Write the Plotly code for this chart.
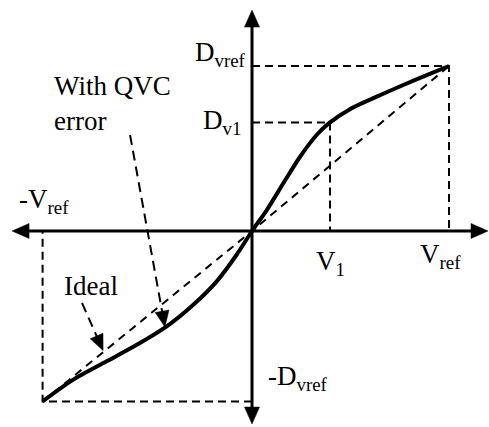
import math
import plotly.graph_objects as go

# Reference levels (normalised so that V_ref = D_vref = 1)
V_REF = 1.0
D_VREF = 1.0
NEG_V_REF = -1.063
NEG_D_VREF = -1.033
V1 = 0.396
D_V1 = 0.658

# Transfer characteristic with QVC error (input voltage -> digital output)
qvc_x = [-1.063, -0.907, -0.738, -0.569, -0.433, -0.298, -0.179, -0.078, 0.0,
         0.075, 0.159, 0.244, 0.328, 0.396, 0.497, 0.633, 0.768, 0.887, 1.0]
qvc_y = [-1.033, -0.901, -0.790, -0.679, -0.578, -0.447, -0.305, -0.144, 0.0,
         0.127, 0.289, 0.450, 0.582, 0.658, 0.738, 0.814, 0.885, 0.945, 1.0]

# Ideal (linear) characteristic
ideal_x = [NEG_V_REF, 0.0, V_REF]
ideal_y = [NEG_D_VREF, 0.0, D_VREF]

# Callout arrows: (tail, tip) in data units
qvc_arrow = [(-0.619, 0.582), (-0.442, -0.582)]
ideal_arrow = [(-0.863, -0.436), (-0.756, -0.725)]

# Axis extents
X_RANGE = [-1.2792, 1.2030]
Y_RANGE = [-1.1879, 1.4]
X_TIP = [-1.218, 1.198]
Y_TIP = [-1.170, 1.339]

W, H = 489, 427
PX_X = W / (X_RANGE[1] - X_RANGE[0])   # pixels per data unit
PX_Y = H / (Y_RANGE[1] - Y_RANGE[0])

FONT = dict(family="Liberation Serif, Times New Roman, serif", size=27, color="black")
GUIDE = dict(color="black", width=2, dash="8px,5px")

fig = go.Figure()


def line(x, y, **style):
    fig.add_trace(go.Scatter(x=x, y=y, mode="lines", line=style,
                             hoverinfo="skip", showlegend=False))


def head(tail, tip, length, width):
    """Filled triangular arrowhead at `tip`, pointing away from `tail`."""
    (x0, y0), (x1, y1) = tail, tip
    dxp, dyp = (x1 - x0) * PX_X, (y1 - y0) * PX_Y
    n = math.hypot(dxp, dyp)
    ux, uy = dxp / n, dyp / n
    bx, by = -ux * length, -uy * length            # back along the shaft (px)
    px_, py_ = -uy * width / 2, ux * width / 2       # perpendicular (px)
    xs = [x1, x1 + (bx + px_) / PX_X, x1 + (bx - px_) / PX_X, x1]
    ys = [y1, y1 + (by + py_) / PX_Y, y1 + (by - py_) / PX_Y, y1]
    fig.add_trace(go.Scatter(x=xs, y=ys, mode="lines", fill="toself",
                             fillcolor="black", line=dict(color="black", width=0.5),
                             hoverinfo="skip", showlegend=False))
    # point where the shaft should stop (data units)
    return (x1 + bx * 0.6 / PX_X, y1 + by * 0.6 / PX_Y)


# Dashed guide lines to the reference points
for gx, gy in [
    ([0, V_REF, V_REF], [D_VREF, D_VREF, 0]),
    ([0, V1, V1], [D_V1, D_V1, 0]),
    ([0, NEG_V_REF, NEG_V_REF], [NEG_D_VREF, NEG_D_VREF, 0]),
]:
    line(gx, gy, **GUIDE)

# Ideal line
line(ideal_x, ideal_y, color="black", width=2, dash="8px,6px")

# Characteristic with QVC error
line(qvc_x, qvc_y, color="black", width=4, shape="spline", smoothing=0.8)

# Axes with arrowheads at both ends
ends = []
for tail, tip in [((0, 0), (X_TIP[1], 0)), ((0, 0), (X_TIP[0], 0)),
                  ((0, 0), (0, Y_TIP[1])), ((0, 0), (0, Y_TIP[0]))]:
    ends.append(head(tail, tip, 17, 15))
line([ends[1][0], ends[0][0]], [0, 0], color="black", width=3)
line([0, 0], [ends[3][1], ends[2][1]], color="black", width=3)

# Dashed callout arrows
for tail, tip in [qvc_arrow, ideal_arrow]:
    stop = head(tail, tip, 16, 14)
    line([tail[0], stop[0]], [tail[1], stop[1]], color="black", width=2, dash="10px,6px")

# Labels
labels = [
    dict(x=0, y=D_VREF, text="D<sub>vref</sub>", xanchor="right", xshift=-4, yshift=12),
    dict(x=0, y=D_V1, text="D<sub>v1</sub>", xanchor="right", xshift=-9, yshift=0),
    dict(x=NEG_V_REF, y=0, text="-V<sub>ref</sub>", xanchor="center", xshift=1, yshift=30),
    dict(x=V1, y=0, text="V<sub>1</sub>", xanchor="center", xshift=0, yshift=-32),
    dict(x=V_REF, y=0, text="V<sub>ref</sub>", xanchor="center", xshift=-9, yshift=-25),
    dict(x=0, y=NEG_D_VREF, text="-D<sub>vref</sub>", xanchor="left", xshift=14, yshift=23),
    dict(x=-1.015, y=0.773, text="With QVC<br>error", xanchor="left", align="left"),
    dict(x=-0.964, y=-0.333, text="Ideal", xanchor="left"),
]
for lab in labels:
    fig.add_annotation(xref="x", yref="y", showarrow=False, yanchor="middle",
                       font=FONT, **lab)

fig.update_layout(
    width=W, height=H,
    margin=dict(l=0, r=0, t=0, b=0),
    paper_bgcolor="white", plot_bgcolor="white",
    font=FONT,
    xaxis=dict(range=X_RANGE, visible=False, fixedrange=True),
    yaxis=dict(range=Y_RANGE, visible=False, fixedrange=True),
    showlegend=False,
)

fig.write_html("out.html")
